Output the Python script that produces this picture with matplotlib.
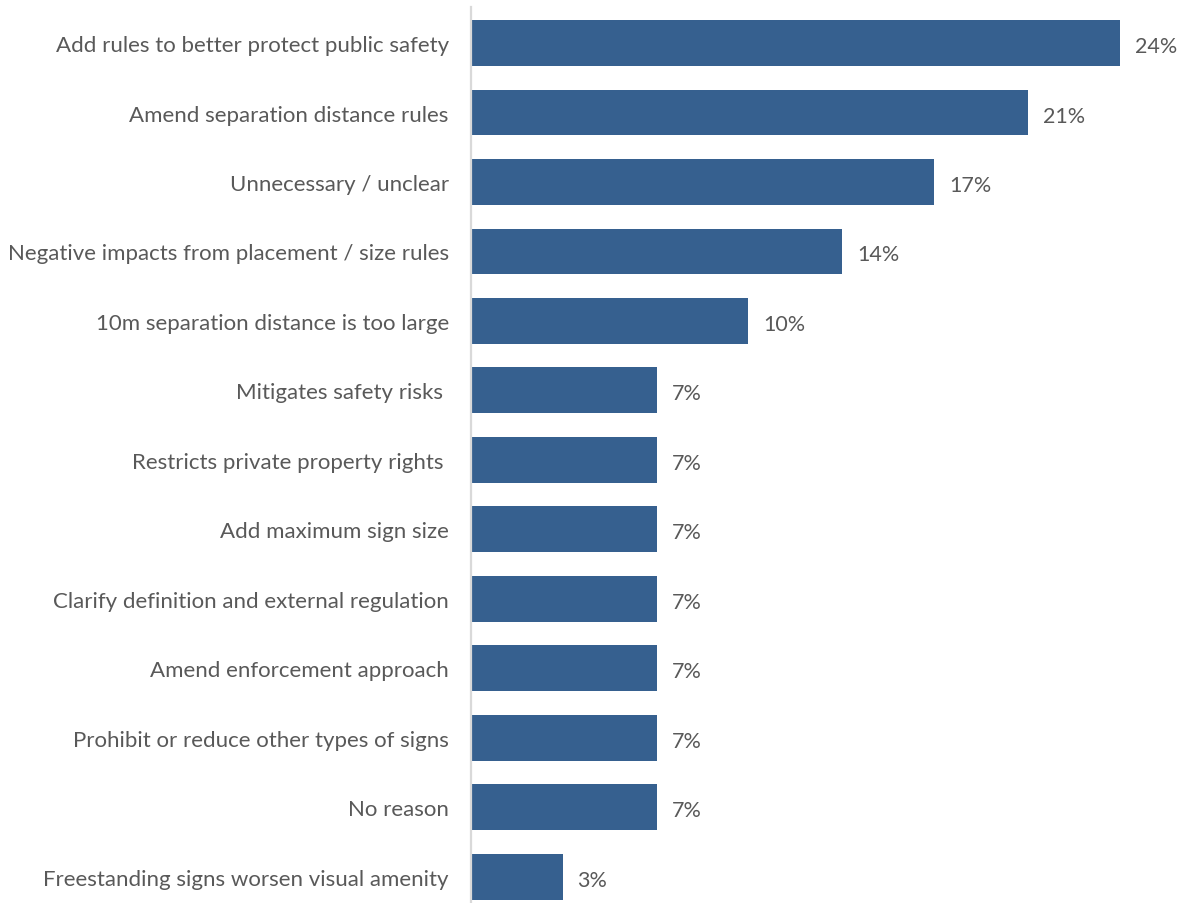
import matplotlib
matplotlib.use("Agg")
import matplotlib.pyplot as plt

BAR = "#36608f"
TEXT = "#595959"
AXIS = "#d9d9d9"
FONT = ["Lato", "DejaVu Sans"]

reasons = [
    "Add rules to better protect public safety",
    "Amend separation distance rules",
    "Unnecessary / unclear",
    "Negative impacts from placement / size rules",
    "10m separation distance is too large",
    "Mitigates safety risks ",
    "Restricts private property rights ",
    "Add maximum sign size",
    "Clarify definition and external regulation",
    "Amend enforcement approach",
    "Prohibit or reduce other types of signs",
    "No reason",
    "Freestanding signs worsen visual amenity",
]
# share of respondents (%), out of 29
shares = [24.1, 20.7, 17.2, 13.8, 10.3, 6.9, 6.9, 6.9, 6.9, 6.9, 6.9, 6.9, 3.4]

W, H = 1183, 904
fig = plt.figure(figsize=(W / 100, H / 100), dpi=100)
ax = fig.add_axes([471 / W, 0, (W - 471) / W, (H - 8) / H])

ypos = list(range(len(reasons)))
ax.barh(ypos, shares, height=0.66, color=BAR, zorder=2)

for y, v in zip(ypos, shares):
    ax.annotate(f"{v:.0f}%", (v, y), xytext=(15, -3), textcoords="offset pixels",
                ha="left", va="center", fontsize=15.5, color=TEXT, family=FONT)

ax.set_yticks(ypos)
ax.set_yticklabels(reasons, fontsize=16, color=TEXT, family=FONT)
for lbl in ax.get_yticklabels():
    lbl.set_va("center_baseline")
ax.tick_params(axis="y", length=0, pad=16)
ax.set_xticks([])
ax.set_xlim(0, 26.45)
ax.set_ylim(12.38, -0.52)

for side in ("top", "right", "bottom"):
    ax.spines[side].set_visible(False)
ax.spines["left"].set_color(AXIS)
ax.spines["left"].set_linewidth(1.6)

fig.savefig("out.png", dpi=100, facecolor="white")
